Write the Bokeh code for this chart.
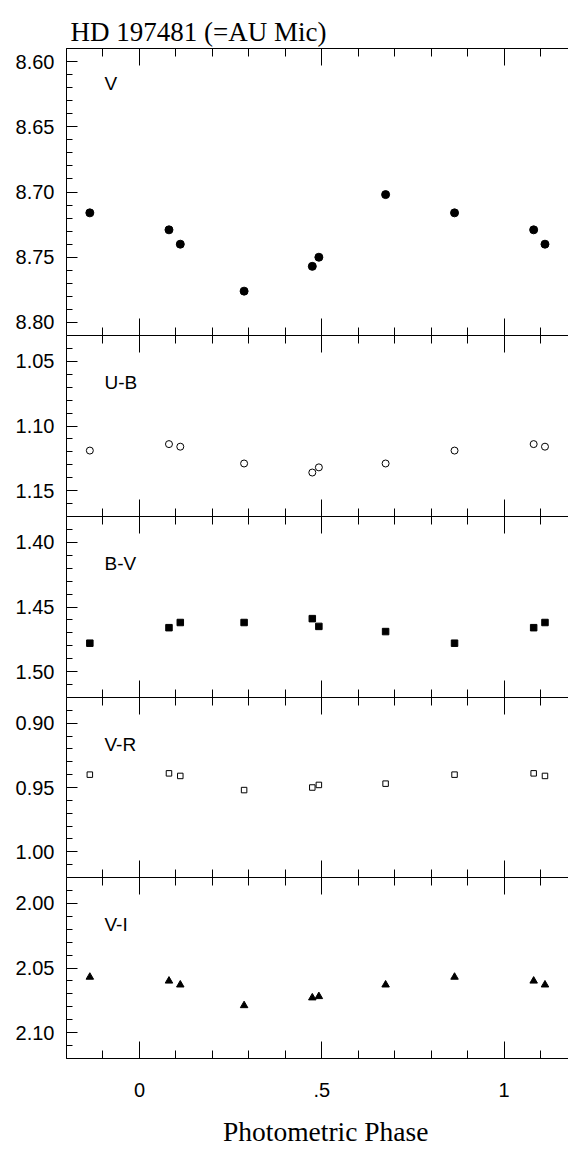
from bokeh.plotting import figure
from bokeh.layouts import column
from bokeh.models import (Range1d, LinearAxis, SingleIntervalTicker,
                          PrintfTickFormatter, Label, Title)
from bokeh.embed import file_html
from bokeh.resources import INLINE

# ---- data ----
phase = [0.081, 0.112, 0.287, 0.474, 0.492, 0.675, 0.864]
v_mag = [8.729, 8.740, 8.776, 8.757, 8.750, 8.702, 8.716]
u_b = [1.114, 1.116, 1.129, 1.136, 1.132, 1.129, 1.119]
b_v = [1.466, 1.462, 1.462, 1.459, 1.465, 1.469, 1.478]
v_r = [0.939, 0.941, 0.952, 0.950, 0.948, 0.947, 0.940]
v_i = [2.060, 2.063, 2.079, 2.073, 2.072, 2.063, 2.057]

panel_names = ["V", "U-B", "B-V", "V-R", "V-I"]
y_limits = [(8.59, 8.81), (1.03, 1.17), (1.38, 1.52), (0.88, 1.02), (1.98, 2.12)]
x_tick_labels = {0: "0", 0.5: ".5", 1: "1"}
title_text = "HD 197481 (=AU Mic)"
x_title = "Photometric Phase"

series = [v_mag, u_b, b_v, v_r, v_i]
marker_styles = [
    dict(marker="circle", size=8, fill_color="black", line_color="black"),
    dict(marker="circle", size=7, fill_color="white", line_color="black", line_width=1),
    dict(marker="square", size=6.5, fill_color="black", line_color="black"),
    dict(marker="square", size=5.5, fill_color="white", line_color="black", line_width=1),
    dict(marker="triangle", size=7.5, fill_color="black", line_color="black"),
]

X_MIN, X_MAX = -0.2, 1.2
x_view_end = 1.1765  # window cuts the frame near the right axis
frame_heights = [287, 181, 181, 180, 181]
top_border = 48
bottom_border = 92
W = 568

x_range = Range1d(X_MIN, x_view_end)


def wrap(ph, vals):
    xs, ys = [], []
    for p, v in zip(ph, vals):
        for shift in (-1, 0, 1):
            q = p + shift
            if X_MIN <= q <= X_MAX:
                xs.append(q)
                ys.append(v)
    return xs, ys


def x_axis(show_labels):
    ax = LinearAxis(
        ticker=SingleIntervalTicker(interval=0.5, num_minor_ticks=5),
        major_tick_in=17, major_tick_out=0,
        minor_tick_in=8, minor_tick_out=0,
        axis_line_color="black", axis_line_width=1,
        major_tick_line_color="black", minor_tick_line_color="black",
        major_label_overrides=x_tick_labels,
    )
    if show_labels:
        ax.major_label_text_font = "Liberation Sans"
        ax.major_label_text_font_size = "20px"
        ax.major_label_text_color = "black"
        ax.major_label_standoff = 24
    else:
        ax.major_label_text_font_size = "0px"
        ax.major_label_text_color = None
        ax.major_label_standoff = 0
    return ax


figs = []
n = len(panel_names)
for i in range(n):
    lo, hi = y_limits[i]
    fh = frame_heights[i]
    p = figure(
        frame_width=W - 66, frame_height=fh,
        min_border_left=66, min_border_right=0,
        min_border_top=top_border if i == 0 else 0,
        min_border_bottom=bottom_border if i == n - 1 else 0,
        x_range=x_range, y_range=Range1d(hi, lo),
        x_axis_location=None, y_axis_location=None,
        toolbar_location=None, output_backend="svg",
    )
    p.outline_line_color = None
    p.background_fill_color = "white"
    p.border_fill_color = "white"
    p.xgrid.visible = False
    p.ygrid.visible = False

    yax = LinearAxis(
        ticker=SingleIntervalTicker(interval=0.05, num_minor_ticks=5),
        formatter=PrintfTickFormatter(format="%.2f"),
        major_tick_in=11, major_tick_out=0,
        minor_tick_in=6, minor_tick_out=0,
        major_label_standoff=12,
        major_label_text_font="Liberation Sans",
        major_label_text_font_size="20px",
        major_label_text_color="black",
        axis_line_color="black",
        major_tick_line_color="black", minor_tick_line_color="black",
    )
    p.add_layout(yax, "left")
    p.add_layout(x_axis(False), "above")
    p.add_layout(x_axis(i == n - 1), "below")
    if i == 0:
        p.add_layout(Title(text=title_text, text_font="Liberation Serif",
                           text_font_size="27px", text_font_style="normal",
                           text_color="black", align="left", offset=4,
                           standoff=4), "above")
    if i == n - 1:
        p.add_layout(Title(text=x_title, text_font="Liberation Serif",
                           text_font_size="27.5px", text_font_style="normal",
                           text_color="black", align="left", offset=156.5,
                           standoff=28), "below")

    xs, ys = wrap(phase, series[i])
    p.scatter(xs, ys, **marker_styles[i])

    label_y = fh - 35 if i == 0 else fh - 47
    p.add_layout(Label(x=38, y=label_y, x_units="screen", y_units="screen",
                       text=panel_names[i], text_font="Liberation Sans",
                       text_font_size="19px", text_color="black",
                       text_baseline="middle", text_align="left"))
    figs.append(p)

layout = column(*figs, spacing=0)
open("out.html", "w").write(file_html(layout, INLINE))
